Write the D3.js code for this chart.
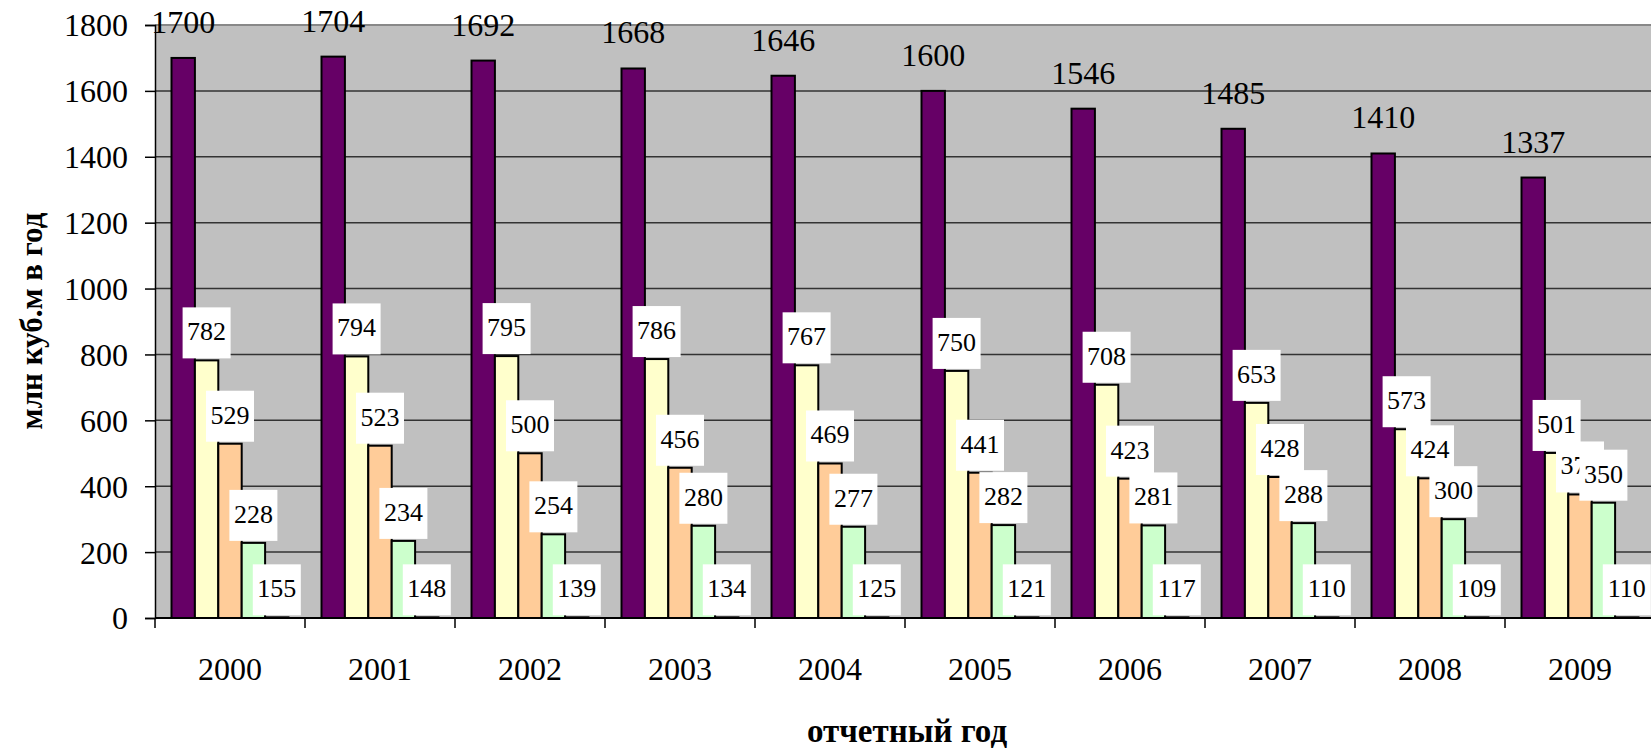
<!DOCTYPE html>
<html><head><meta charset="utf-8">
<script src="https://cdn.jsdelivr.net/npm/d3@7"></script>
<style>body{margin:0;background:#fff;overflow:hidden}svg{display:block}text{font-family:"Liberation Serif","Times New Roman",serif;fill:#000}</style>
</head><body>
<svg id="chart" width="1651" height="748"></svg>
<script>
const years = ["2000","2001","2002","2003","2004","2005","2006","2007","2008","2009"];
const seriesA = [1700,1704,1692,1668,1646,1600,1546,1485,1410,1337];
const seriesB = [782,794,795,786,767,750,708,653,573,501];
const seriesC = [529,523,500,456,469,441,423,428,424,375];
const seriesD = [228,234,254,280,277,282,281,288,300,350];
const seriesEBar = [2,2,2,2,2,2,2,2,2,2];
const seriesELabels = [155,148,139,134,125,121,117,110,109,110];
const yTicks = [0,200,400,600,800,1000,1200,1400,1600,1800];
const colors = ["#660066","#FFFFCC","#FFCC99","#CCFFCC","#CCFFFF"];
const FONT = "Liberation Serif";

const series = [
  {vals: seriesA, labels: seriesA, boxed: false},
  {vals: seriesB, labels: seriesB, boxed: true},
  {vals: seriesC, labels: seriesC, boxed: true},
  {vals: seriesD, labels: seriesD, boxed: true},
  {vals: seriesEBar, labels: seriesELabels, boxed: true}
];

const svg = d3.select("#chart");
const L = 155, R = 1655, T = 25, B = 618;
const x = d3.scaleBand().domain(years).range([L, R]).padding(0);
const inner = d3.scaleBand().domain(d3.range(series.length)).range([16.5, x.bandwidth() - 16.5]).padding(0);
const y = d3.scaleLinear().domain([0, 1800]).range([B, T]);

svg.append("rect").attr("x", L).attr("y", T).attr("width", R - L).attr("height", B - T).attr("fill", "#C0C0C0");
svg.append("g").selectAll("line").data(yTicks.filter(d => d > 0 && d < 1800)).join("line")
  .attr("x1", L).attr("x2", R).attr("y1", d => y(d)).attr("y2", d => y(d))
  .attr("stroke", "#333").attr("stroke-width", 1.5);
svg.append("line").attr("x1", L).attr("x2", R).attr("y1", y(1800)).attr("y2", y(1800))
  .attr("stroke", "#888").attr("stroke-width", 2);

const gBars = svg.append("g");
series.forEach((s, si) => {
  gBars.append("g").selectAll("rect").data(years).join("rect")
    .attr("x", (d) => x(d) + inner(si))
    .attr("width", inner.bandwidth())
    .attr("y", (d, i) => y(s.vals[i]))
    .attr("height", (d, i) => B - y(s.vals[i]))
    .attr("fill", colors[si]).attr("stroke", "#000").attr("stroke-width", 2);
});

const yAxis = svg.append("g").attr("transform", `translate(${L},0)`)
  .call(d3.axisLeft(y).tickValues(yTicks).tickSize(10).tickPadding(17).tickFormat(d3.format("d")));
yAxis.attr("font-family", FONT);
yAxis.select(".domain").attr("stroke", "#000").attr("stroke-width", 1.5);
yAxis.selectAll(".tick line").attr("stroke", "#000").attr("stroke-width", 1.5);
yAxis.selectAll(".tick text").attr("font-size", 32).attr("font-family", FONT).attr("dy", "0.34em");

const xAxis = svg.append("g").attr("transform", `translate(0,${B})`)
  .call(d3.axisBottom(x).tickSize(0).tickPadding(0));
xAxis.attr("font-family", FONT);
xAxis.select(".domain").attr("stroke", "#000").attr("stroke-width", 2).attr("d", `M${L},0H${R}`);
xAxis.selectAll(".tick text").attr("font-size", 32).attr("font-family", FONT).attr("y", 62).attr("dy", 0);
svg.append("g").selectAll("line").data(years).join("line")
  .attr("x1", d => x(d)).attr("x2", d => x(d)).attr("y1", B).attr("y2", B + 10)
  .attr("stroke", "#000").attr("stroke-width", 1.5);

const gLab = svg.append("g").attr("font-family", FONT);
series.forEach((s, si) => {
  years.forEach((yr, i) => {
    const cx = x(yr) + inner(si) + inner.bandwidth() / 2;
    const top = y(s.vals[i]);
    if (!s.boxed) {
      gLab.append("text").attr("x", cx).attr("y", top - 25).attr("text-anchor", "middle")
        .attr("font-family", FONT).attr("font-size", 32).text(s.labels[i]);
    } else {
      const t = String(s.labels[i]);
      const w = t.length * 13 + 9;
      gLab.append("rect").attr("x", cx - w / 2).attr("y", top - 53).attr("width", w).attr("height", 51).attr("fill", "#fff");
      gLab.append("text").attr("x", cx).attr("y", top - 20).attr("text-anchor", "middle")
        .attr("font-family", FONT).attr("font-size", 26).text(t);
    }
  });
});

svg.append("text").attr("transform", `translate(42,321) rotate(-90)`)
  .attr("text-anchor", "middle").attr("font-family", FONT).attr("font-size", 31).attr("font-weight", "bold").text("млн куб.м в год");
svg.append("text").attr("x", 907).attr("y", 742).attr("text-anchor", "middle")
  .attr("font-family", FONT).attr("font-size", 33).attr("font-weight", "bold").text("отчетный год");
</script>
</body></html>
